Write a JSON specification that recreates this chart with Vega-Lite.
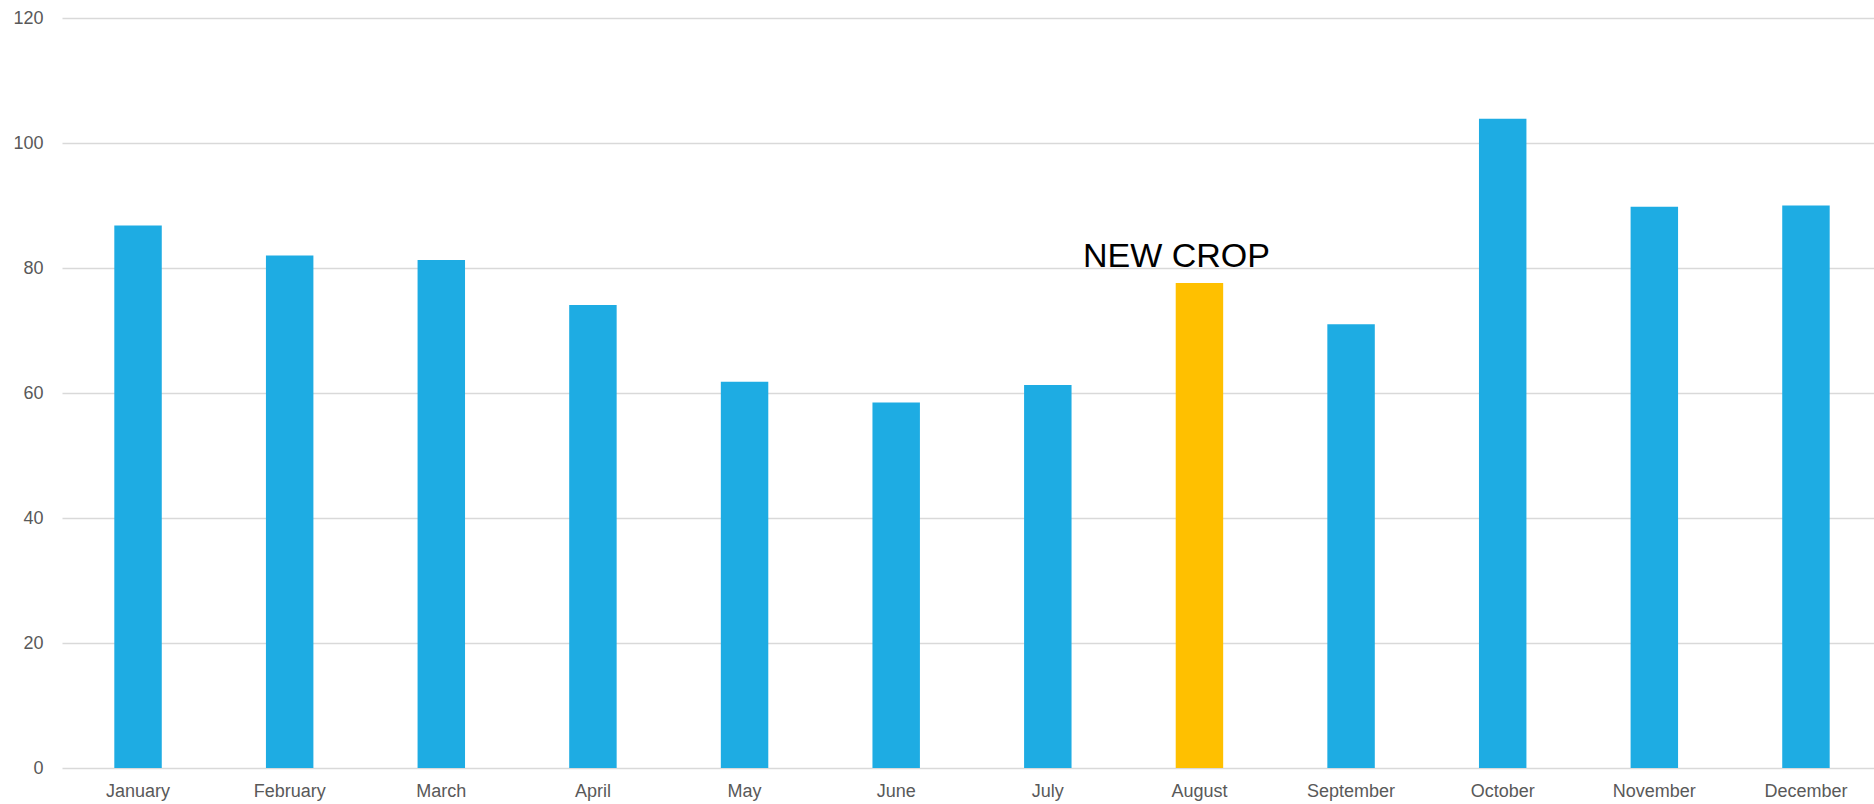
{
  "$schema": "https://vega.github.io/schema/vega-lite/v6.json",
  "width": 1820,
  "height": 750,
  "autosize": {"type": "none"},
  "padding": {"left": 62, "top": 18, "right": 0, "bottom": 36},
  "background": "white",
  "config": {
    "view": {"stroke": null},
    "font": "Liberation Sans"
  },
  "data": {
    "values": [
      {"month": "January", "value": 86.8, "group": "regular"},
      {"month": "February", "value": 82.0, "group": "regular"},
      {"month": "March", "value": 81.3, "group": "regular"},
      {"month": "April", "value": 74.1, "group": "regular"},
      {"month": "May", "value": 61.8, "group": "regular"},
      {"month": "June", "value": 58.5, "group": "regular"},
      {"month": "July", "value": 61.3, "group": "regular"},
      {"month": "August", "value": 77.6, "group": "new crop"},
      {"month": "September", "value": 71.0, "group": "regular"},
      {"month": "October", "value": 103.9, "group": "regular"},
      {"month": "November", "value": 89.8, "group": "regular"},
      {"month": "December", "value": 90.0, "group": "regular"}
    ]
  },
  "encoding": {
    "x": {
      "field": "month",
      "type": "nominal",
      "sort": null,
      "scale": {"paddingInner": 0.687, "paddingOuter": 0.345},
      "axis": {
        "title": null,
        "labelAngle": 0,
        "labelFontSize": 18,
        "labelColor": "#595959",
        "labelPadding": 14,
        "ticks": false,
        "domain": false
      }
    }
  },
  "layer": [
    {
      "mark": {"type": "bar"},
      "encoding": {
        "y": {
          "field": "value",
          "type": "quantitative",
          "scale": {"domain": [0, 120], "nice": false},
          "axis": {
            "title": null,
            "values": [0, 20, 40, 60, 80, 100, 120],
            "labelFontSize": 18,
            "labelColor": "#595959",
            "labelPadding": 19,
            "ticks": false,
            "domain": false,
            "grid": true,
            "gridColor": "#d9d9d9",
            "gridWidth": 1.5
          }
        },
        "color": {
          "field": "group",
          "type": "nominal",
          "scale": {"domain": ["regular", "new crop"], "range": ["#1eace3", "#ffc000"]},
          "legend": null
        }
      }
    },
    {
      "transform": [{"filter": "datum.group === 'new crop'"}],
      "mark": {
        "type": "text",
        "text": "NEW CROP",
        "fontSize": 34,
        "color": "#000000",
        "baseline": "alphabetic",
        "align": "center",
        "dx": -23,
        "dy": -1
      },
      "encoding": {
        "y": {"datum": 80, "type": "quantitative"}
      }
    }
  ]
}
